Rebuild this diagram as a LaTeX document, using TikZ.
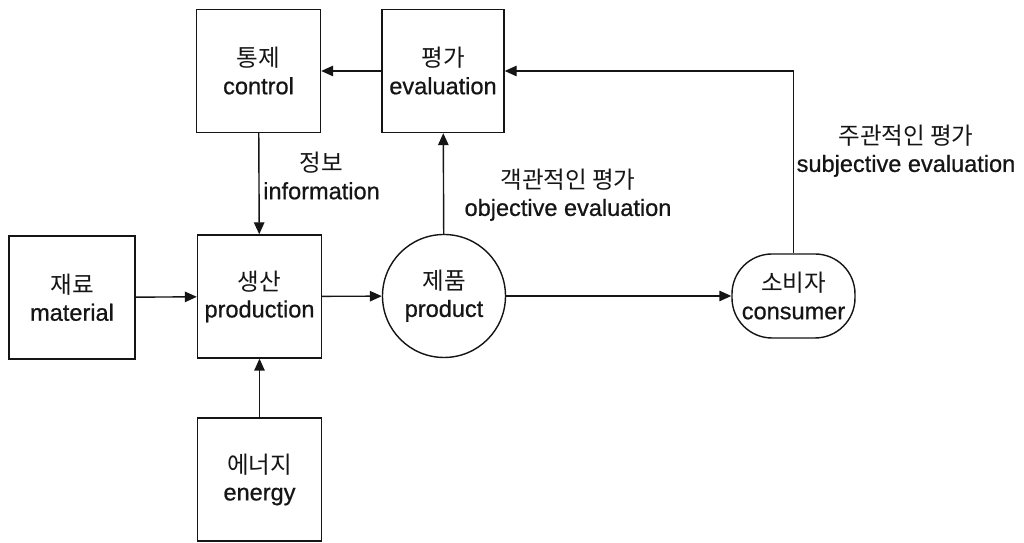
\documentclass[tikz,border=0pt]{standalone}
\usepackage{fontspec}
\setmainfont{Liberation Sans}[FakeBold=0.7]
\newfontfamily\kofont{Noto Sans CJK KR}
\newcommand{\ko}[1]{{\kofont #1}}
\usetikzlibrary{arrows.meta, positioning, calc}
\definecolor{ink}{HTML}{151515}

\begin{document}
\begin{tikzpicture}[
  >={Triangle[length=2.4mm, width=2.1mm]},
  stagebox/.style={
    draw=ink, line width=0.8pt, minimum width=24.8mm, minimum height=24.6mm,
    text=ink, align=center, inner sep=2pt
  },
  arr/.style={->, line width=0.8pt, ink},
  lbl/.style={text=ink, align=center, inner sep=1pt},
  every node/.append style={font=\fontsize{13.4}{15.5}\selectfont},
]

% Frame
\useasboundingbox (0,0) rectangle (20.48,10.86);
\fill[white] (0,0) rectangle (20.48,10.86);

% =============================================
% Top row: control and evaluation
% =============================================
\node[stagebox] (control) at (5.17,9.44) {\ko{통제}\\control};
\node[stagebox, minimum width=24.4mm] (evaluation) at (8.86,9.44)
  {\ko{평가}\\evaluation};

% =============================================
% Middle row: material, production, product, consumer
% =============================================
\node[stagebox, minimum width=25.2mm] (material) at (1.44,4.91)
  {\ko{재료}\\material};
\node[stagebox] (production) at (5.19,4.93) {\ko{생산}\\production};
\node[circle, draw=ink, line width=0.8pt, minimum size=24.6mm,
      text=ink, align=center, inner sep=1pt]
  (product) at (8.88,4.94) {\ko{제품}\\product};
\node[draw=ink, line width=0.8pt, rounded corners=8mm,
      minimum width=24.6mm, minimum height=16.8mm,
      text=ink, align=center, inner sep=1pt]
  (consumer) at (15.87,4.94) {\ko{소비자}\\consumer};

% =============================================
% Bottom: energy
% =============================================
\node[stagebox] (energy) at (5.19,1.27) {\ko{에너지}\\energy};

% Flows
\draw[arr] (evaluation) -- (control);
\draw[arr] (control) -- (production);
\draw[arr] (material) -- (production);
\draw[arr] (energy) -- (production);
\draw[arr] (production) -- (product);
\draw[arr] (product) -- (evaluation);
\draw[arr] (product) -- (consumer);
\draw[arr] (consumer.north) |- (evaluation.east);

% Labels
\node[lbl] (infolbl) at (6.43,7.34) {\ko{정보}\\information};
\node[lbl] (objlbl) at (11.36,6.96) {\ko{객관적인 평가}\\objective evaluation};
\node[lbl] (subjlbl) at (18.12,7.84) {\ko{주관적인 평가}\\subjective evaluation};

\end{tikzpicture}
\end{document}
